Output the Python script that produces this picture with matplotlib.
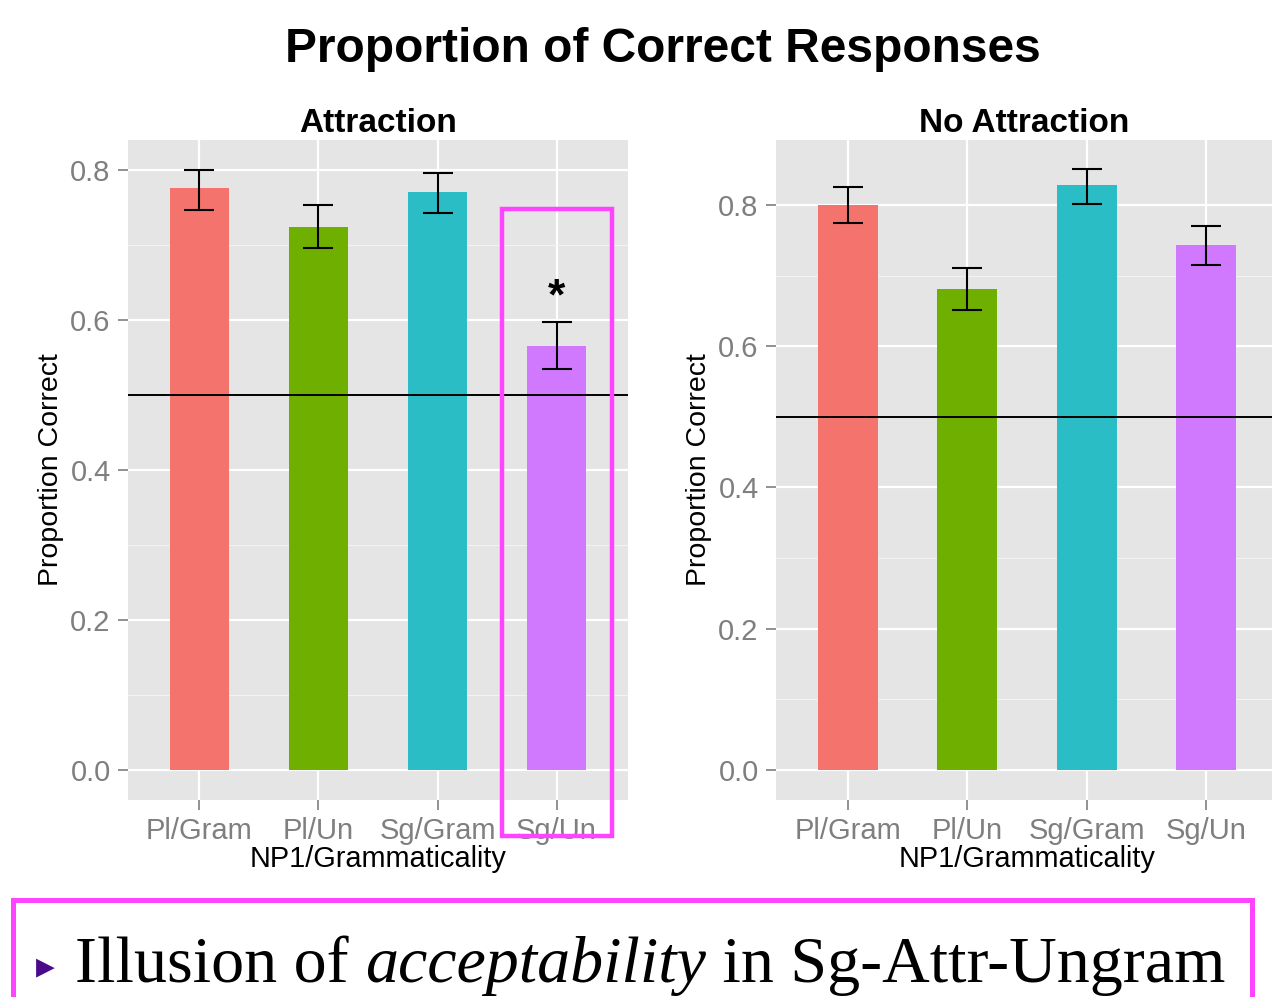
import matplotlib
matplotlib.use("Agg")
import matplotlib.pyplot as plt
from matplotlib.patches import Rectangle
from matplotlib.ticker import MultipleLocator

categories = ["Pl/Gram", "Pl/Un", "Sg/Gram", "Sg/Un"]
colors = ["#F4736D", "#6FAF00", "#2BBDC5", "#D079FF"]

attr_vals = [0.776, 0.724, 0.771, 0.565]
attr_lo = [0.747, 0.696, 0.743, 0.535]
attr_hi = [0.800, 0.753, 0.796, 0.597]

noattr_vals = [0.800, 0.681, 0.828, 0.743]
noattr_lo = [0.775, 0.651, 0.801, 0.715]
noattr_hi = [0.825, 0.711, 0.851, 0.770]

chance = 0.5
yticks = [0.0, 0.2, 0.4, 0.6, 0.8]

W, H = 1272, 997
fig = plt.figure(figsize=(W / 100, H / 100), dpi=100)
plt.rcParams['font.family'] = ['Liberation Sans', 'DejaVu Sans']

def px_axes(x0, y0, x1, y1):
    return fig.add_axes([x0 / W, 1 - y1 / H, (x1 - x0) / W, (y1 - y0) / H])

def panel(ax, vals, lo, hi, title, ylim, xfac):
    ax.set_facecolor("#E5E5E5")
    x = list(range(1, len(categories) + 1))
    ax.set_axisbelow(True)
    ax.yaxis.set_major_locator(MultipleLocator(0.2))
    ax.yaxis.set_minor_locator(MultipleLocator(0.1))
    ax.grid(which="major", color="white", linewidth=1.6)
    ax.grid(which="minor", axis="y", color="#F2F2F2", linewidth=0.8)
    ax.bar(x, vals, width=0.5, color=colors, zorder=2)
    err = [[v - l for v, l in zip(vals, lo)], [h - v for v, h in zip(vals, hi)]]
    ax.errorbar(x, vals, yerr=err, fmt="none", ecolor="black", elinewidth=1.5,
                capsize=11, capthick=1.5, zorder=3)
    ax.axhline(chance, color="black", linewidth=1.4, zorder=4)
    ax.set_xlim(0.4, 4.6)
    ax.set_ylim(*ylim)
    ax.set_xticks(x)
    ax.set_xticklabels(categories)
    ax.set_yticks(yticks)
    ax.set_yticklabels([f"{t:.1f}" for t in yticks])
    for s in ax.spines.values():
        s.set_visible(False)
    ax.tick_params(axis="both", which="major", colors="#7F7F7F", labelcolor="#7F7F7F",
                   labelsize=21, length=7, width=1.2, pad=5.5)
    ax.tick_params(axis="x", which="major", pad=5)
    ax.tick_params(axis="y", which="minor", length=0)
    ax.set_xlabel("NP1/Grammaticality", fontsize=20.8, color="black", va="top")
    ax.xaxis.set_label_coords(0.5, -0.068)
    ax.set_ylabel("Proportion Correct", fontsize=20.5, color="black")
    ax.yaxis.set_label_coords(xfac, 0.5)
    ax.set_title(title, fontsize=24, fontweight="bold", pad=6)

ax1 = px_axes(128, 140, 628, 800)
panel(ax1, attr_vals, attr_lo, attr_hi, "Attraction", (-0.04, 0.84), -0.128)
ax1.text(4, 0.63, "*", ha="center", va="center", fontsize=32, fontweight="bold")

ax2 = px_axes(776, 140, 1278, 800)
panel(ax2, noattr_vals, noattr_lo, noattr_hi, "No Attraction", (-0.0425, 0.892), -0.1275)
ax2.title.set_position((0.4935, 1.0))

fig.text(663 / W, 1 - 50 / H, "Proportion of Correct Responses", ha="center", va="center",
         fontsize=34.5, fontweight="bold")

mag = "#FF44FF"
fig.add_artist(Rectangle((502 / W, 1 - 836 / H), 110 / W, 627 / H, transform=fig.transFigure,
                         fill=False, edgecolor=mag, linewidth=3.2))
fig.add_artist(Rectangle((13 / W, 1 - 1010 / H), 1239 / W, 110 / H, transform=fig.transFigure,
                         fill=False, edgecolor=mag, linewidth=3.6))

fig.text(36 / W, 1 - 967 / H, "\u25B8", ha="left", va="center", fontsize=27,
         color="#4B0A8A", family="DejaVu Sans")

# bottom bullet text, pieces laid out left to right and fitted to the reference width
fig.canvas.draw()
renderer = fig.canvas.get_renderer()
pieces = [("Illusion of ", "normal"), ("acceptability", "italic"), (" in Sg-Attr-Ungram", "normal")]
base_size = 56
total = 0
for s, style in pieces:
    t = fig.text(0, 0, s, fontsize=base_size, family="Liberation Serif", style=style)
    total += t.get_window_extent(renderer).width
    t.remove()
size = base_size * 1150 / total
xpos = 75
for s, style in pieces:
    t = fig.text(xpos / W, 1 - 982 / H, s, ha="left", va="baseline", fontsize=size,
                 family="Liberation Serif", style=style, color="black")
    xpos += t.get_window_extent(renderer).width

fig.savefig("out.png", dpi=100)
